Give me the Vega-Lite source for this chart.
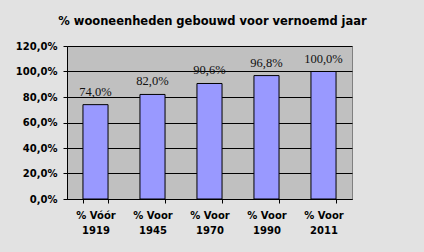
{
  "$schema": "https://vega.github.io/schema/vega-lite/v6.json",
  "width": 285,
  "height": 153,
  "autosize": {"type": "none"},
  "padding": {"left": 67, "top": 46, "right": 72, "bottom": 53},
  "background": "#e2e2e2",
  "title": {
    "text": "% wooneenheden gebouwd voor vernoemd jaar",
    "font": "DejaVu Sans",
    "fontSize": 11.5,
    "fontWeight": "bold",
    "color": "#000000",
    "anchor": "middle",
    "frame": "group",
    "baseline": "alphabetic",
    "offset": 5,
    "dx": 3
  },
  "data": {
    "values": [
      {"periode": "% Vóór 1919", "aandeel": 0.74},
      {"periode": "% Voor 1945", "aandeel": 0.82},
      {"periode": "% Voor 1970", "aandeel": 0.906},
      {"periode": "% Voor 1990", "aandeel": 0.968},
      {"periode": "% Voor 2011", "aandeel": 1.0}
    ]
  },
  "encoding": {
    "x": {
      "field": "periode",
      "type": "nominal",
      "sort": null,
      "scale": {"paddingInner": 0.56, "paddingOuter": 0.28},
      "axis": {
        "title": null,
        "labelAngle": 0,
        "labelExpr": "[slice(datum.label, 0, -5), slice(datum.label, -4)]",
        "labelFont": "DejaVu Sans",
        "labelFontSize": 10,
        "labelFontWeight": "bold",
        "labelColor": "#000000",
        "labelLineHeight": 15,
        "labelPadding": 7,
        "tickBand": "extent",
        "tickSize": 4,
        "tickColor": "#000000",
        "domainColor": "#000000",
        "grid": false
      }
    },
    "y": {
      "field": "aandeel",
      "type": "quantitative",
      "scale": {"domain": [0, 1.2], "nice": false},
      "axis": {
        "title": null,
        "values": [0, 0.2, 0.4, 0.6, 0.8, 1.0, 1.2],
        "format": ".1%",
        "labelFont": "DejaVu Sans",
        "labelFontSize": 10,
        "labelFontWeight": "bold",
        "labelColor": "#000000",
        "labelPadding": 6,
        "tickSize": 4,
        "tickColor": "#000000",
        "domainColor": "#000000",
        "grid": true,
        "gridColor": "#000000",
        "gridOpacity": 1
      }
    }
  },
  "layer": [
    {
      "mark": {"type": "bar", "color": "#9999ff", "stroke": "#000000", "strokeWidth": 1}
    },
    {
      "mark": {
        "type": "text",
        "baseline": "alphabetic",
        "dy": -9,
        "font": "Liberation Serif",
        "fontSize": 12.5,
        "color": "#111111"
      },
      "encoding": {
        "text": {"field": "aandeel", "type": "quantitative", "format": ".1%"}
      }
    }
  ],
  "config": {
    "locale": {
      "number": {"decimal": ",", "thousands": ".", "grouping": [3], "currency": ["€ ", ""]}
    },
    "view": {"fill": "#c0c0c0", "stroke": "#808080", "strokeWidth": 1}
  }
}
